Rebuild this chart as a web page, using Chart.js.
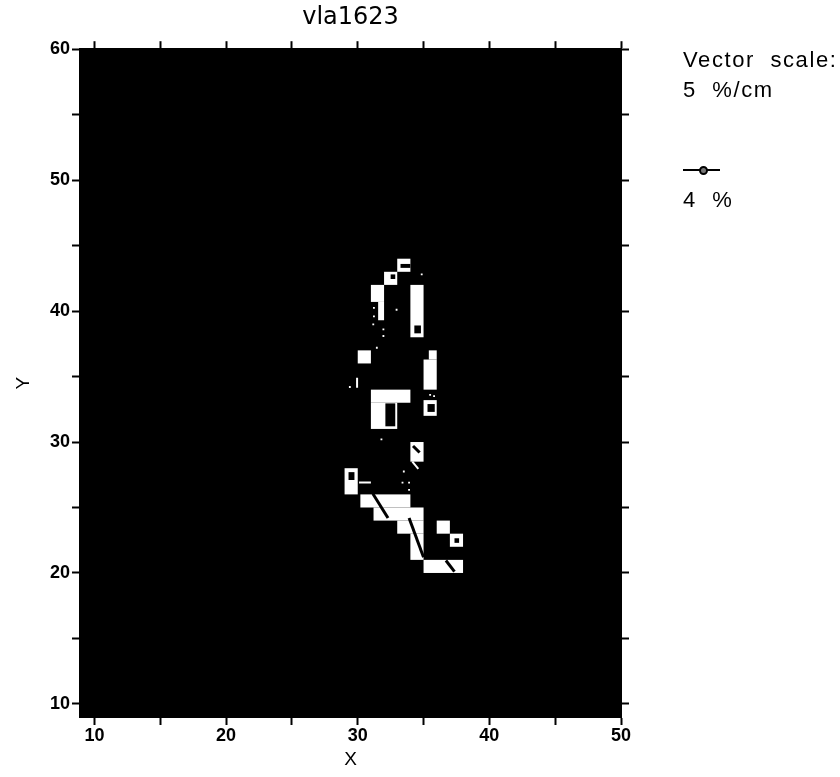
<!DOCTYPE html>
<html>
<head>
<meta charset="utf-8">
<title>vla1623</title>
<script src="https://cdn.jsdelivr.net/npm/chart.js@4.4.0/dist/chart.umd.min.js"></script>
<style>
  body { margin: 0; background: #fff; }
  #wrap { position: relative; width: 840px; height: 777px; }
  .side {
    position: absolute; left: 683px; color: #000;
    font-family: 'Liberation Sans', Arial, sans-serif; font-size: 22px;
    line-height: 30px; letter-spacing: 1.6px; white-space: pre;
  }
  .vecbar { position: absolute; left: 683px; top: 169px; width: 37px; height: 2px; background: #000; }
  .vecdot { position: absolute; left: 699px; top: 166px; width: 5px; height: 5px;
            border: 2px solid #000; border-radius: 50%; background: #777; }
</style>
</head>
<body>
<div id="wrap">
  <canvas id="map" width="840" height="777"></canvas>
  <div class="side" style="top:45px">Vector  scale:
5  %/cm</div>
  <div class="vecbar"></div>
  <div class="vecdot"></div>
  <div class="side" style="top:185px">4  %</div>
</div>
<script>
// limites du graphe et graduations
const xLimits   = [8.9, 50];
const yLimits   = [9, 60];
const tickStep  = 5;
const labelStep = 10;

// cellules polarisées (blanches) : [x0, x1, y0, y1]
const brightCells = [
    [33, 34, 43, 44],
    [32, 33, 42, 43],
    [31, 32, 40.7, 42],
    [31.55, 32, 39.3, 40.7],
    [34, 35, 38, 42],
    [30, 31, 36, 37],
    [35.4, 36, 36.3, 37],
    [35, 36, 34, 36.3],
    [35, 36, 32, 33.2],
    [31, 34, 33, 34],
    [31, 33, 31, 33],
    [34, 35, 28.5, 30],
    [29, 30, 26, 28],
    [30.2, 34, 25, 26],
    [31.2, 35, 24, 25],
    [33, 35, 23, 24],
    [34, 35, 21, 23],
    [36, 37, 23, 24],
    [37, 38, 22, 23],
    [35, 38, 20, 21],
];

// trous noirs dans les cellules
const darkHoles = [
    [33.25, 34, 43.3, 43.6],
    [32.5, 32.85, 42.45, 42.8],
    [34.3, 34.8, 38.3, 38.9],
    [32.1, 32.85, 31.2, 32.95],
    [35.3, 35.85, 32.3, 32.9],
    [29.3, 29.75, 27.1, 27.7],
    [37.35, 37.7, 22.3, 22.65],
];

// vecteurs : [x0, y0, x1, y1]
const darkVectors = [
    [31.15, 26.05, 32.3, 24.2],
    [33.9, 24.2, 35.0, 21.2],
    [36.7, 20.95, 37.35, 20.1],
    [34.2, 29.7, 34.7, 29.2],
];
const lightVectors = [
    [29.95, 34.9, 29.95, 34.15],
    [30.1, 26.9, 31.0, 26.9],
    [34.15, 28.5, 34.6, 27.95],
];

// pixels isolés
const speckX = [31.23, 31.23, 31.18, 31.95, 34.86, 32.95, 31.45, 31.95, 31.8, 33.5, 33.4, 33.9, 33.9, 29.4, 35.5, 35.8];
const speckY = [40.25, 39.6, 38.98, 38.6, 42.8, 40.1, 37.2, 38.1, 30.2, 27.75, 26.9, 26.9, 26.35, 34.2, 33.6, 33.5];

const FONT = "'Liberation Sans', Arial, sans-serif";

// fond noir + cellules
const cellPlugin = {
    id: 'cells',
    beforeDatasetsDraw(chart) {
        const { ctx, chartArea: a, scales: { x, y } } = chart;
        ctx.save();
        ctx.fillStyle = '#000';
        ctx.fillRect(a.left, a.top, a.right - a.left, a.bottom - a.top);
        const rect = (c, col) => {
            const px0 = x.getPixelForValue(c[0]), px1 = x.getPixelForValue(c[1]);
            const py0 = y.getPixelForValue(c[3]), py1 = y.getPixelForValue(c[2]);
            ctx.fillStyle = col;
            ctx.fillRect(px0, py0, px1 - px0, py1 - py0);
        };
        brightCells.forEach(c => rect(c, '#fff'));
        darkHoles.forEach(c => rect(c, '#000'));
        ctx.restore();
    }
};

const vecSet = (v, col, w) => ({
    data: [{ x: v[0], y: v[1] }, { x: v[2], y: v[3] }],
    showLine: true, borderColor: col, borderWidth: w, pointRadius: 0,
});

const datasets = [
    ...darkVectors.map(v => vecSet(v, '#000', 3)),
    ...lightVectors.map(v => vecSet(v, '#fff', 2)),
    {
        data: speckX.map((x, i) => ({ x, y: speckY[i] })),
        pointStyle: 'rect', pointRadius: 1.3, backgroundColor: '#fff', borderWidth: 0,
    },
];

function axis(pos, lim, labelled, fit) {
    const horiz = pos === 'top' || pos === 'bottom';
    return {
        type: 'linear', position: pos, display: true,
        min: lim[0], max: lim[1],
        ticks: {
            stepSize: tickStep, includeBounds: false, autoSkip: false, maxRotation: 0,
            padding: horiz ? 0 : 2, color: '#000', font: { family: FONT, size: 18, weight: 'bold' },
            callback: v => (labelled && v % labelStep === 0) ? v : '',
        },
        grid: { drawOnChartArea: false, tickLength: 8, tickColor: '#000', tickWidth: 2 },
        border: { display: true, color: '#000', width: 2 },
        afterFit: fit,
    };
}

const scales = {
    x:  axis('bottom', xLimits, true,  s => { s.height = 60; }),
    x2: axis('top',    xLimits, false, s => { s.height = 11.4; }),
    y:  axis('left',   yLimits, true,  s => { s.width = 80; }),
    y2: axis('right',  yLimits, false, s => { s.width = 219; }),
};
scales.x.title = { display: true, text: 'X', color: '#000', font: { family: FONT, size: 19 }, padding: { top: 0, bottom: 6 } };
scales.y.title = { display: true, text: 'Y', color: '#000', font: { family: FONT, size: 19 }, padding: { top: 12, bottom: 0 } };

new Chart(document.getElementById('map'), {
    type: 'scatter',
    data: { datasets },
    options: {
        responsive: false,
        devicePixelRatio: 1,
        animation: false,
        layout: { padding: 0 },
        plugins: {
            legend: { display: false },
            tooltip: { enabled: false },
            title: {
                display: true, text: 'vla1623', fullSize: false, color: '#000',
                font: { family: "'DejaVu Sans', sans-serif", size: 24, weight: 'normal' },
                padding: { top: 3, bottom: 6 },
            },
        },
        scales,
    },
    plugins: [cellPlugin],
});
</script>
</body>
</html>
